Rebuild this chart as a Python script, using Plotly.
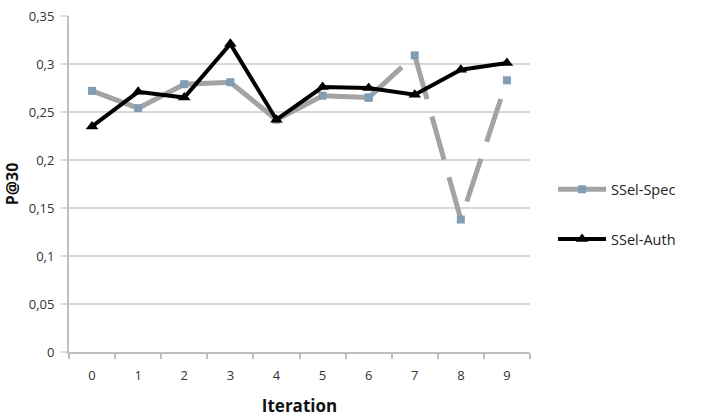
import plotly.graph_objects as go

iterations = ["0", "1", "2", "3", "4", "5", "6", "7", "8", "9"]
ssel_spec = [0.272, 0.254, 0.279, 0.281, 0.242, 0.267, 0.265, 0.309, 0.138, 0.283]
ssel_auth = [0.235, 0.271, 0.265, 0.321, 0.242, 0.276, 0.275, 0.268, 0.294, 0.301]
y_ticks = [0, 0.05, 0.1, 0.15, 0.2, 0.25, 0.3, 0.35]

GRAY = "#a3a3a3"
MARK = "#7f9db5"
FONT = "Open Sans"

fig = go.Figure()
# solid part of SSel-Spec
fig.add_trace(go.Scatter(
    x=iterations[:7], y=ssel_spec[:7], mode="lines+markers", name="SSel-Spec",
    legendgroup="spec",
    line=dict(color=GRAY, width=5),
    marker=dict(symbol="square", size=8, color=MARK),
))
# dashed part of SSel-Spec
fig.add_trace(go.Scatter(
    x=iterations[6:], y=ssel_spec[6:], mode="lines+markers", name="SSel-Spec",
    legendgroup="spec", showlegend=False,
    line=dict(color=GRAY, width=5, dash="45px,18px"),
    marker=dict(symbol="square", size=8, color=MARK),
))
fig.add_trace(go.Scatter(
    x=iterations, y=ssel_auth, mode="lines+markers", name="SSel-Auth",
    legendgroup="auth",
    line=dict(color="black", width=4),
    marker=dict(symbol="triangle-up", size=11, color="black"),
))

fig.update_layout(
    width=712, height=419,
    margin=dict(l=69, r=182, t=16, b=67),
    paper_bgcolor="white", plot_bgcolor="white",
    separators=", ",
    font=dict(family=FONT, color="#333333", size=12),
    legend=dict(x=1.05, y=0.41, xanchor="left", yanchor="middle",
                font=dict(size=14.5, color="#222222", family=FONT),
                traceorder="grouped", tracegroupgap=28, itemwidth=48,
                bgcolor="rgba(0,0,0,0)"),
    xaxis=dict(
        type="category", categoryorder="array", categoryarray=iterations,
        automargin=False,
        showgrid=False, showline=True, linecolor="#bfbfbf", linewidth=2,
        ticks="outside", tickson="boundaries", ticklen=5, tickcolor="#bfbfbf",
        tickwidth=2, ticklabelstandoff=10,
        tickfont=dict(size=13, color="#333333"),
        title=dict(text="<b>Iteration</b>", font=dict(size=17, color="#111111"), standoff=18),
        range=[-0.5, 9.5],
    ),
    yaxis=dict(
        range=[0, 0.35], tickvals=y_ticks, tickformat=".2~f",
        automargin=False,
        showgrid=True, gridcolor="#d9d9d9", gridwidth=2,
        showline=True, linecolor="#bfbfbf", linewidth=2,
        ticks="outside", ticklen=6, tickcolor="#d9d9d9", tickwidth=2,
        ticklabelstandoff=4,
        tickfont=dict(size=13, color="#333333"),
        zeroline=False,
        title=dict(text="<b>P@30</b>", font=dict(size=16, color="#111111"), standoff=6),
    ),
)

fig.write_html("out.html")
